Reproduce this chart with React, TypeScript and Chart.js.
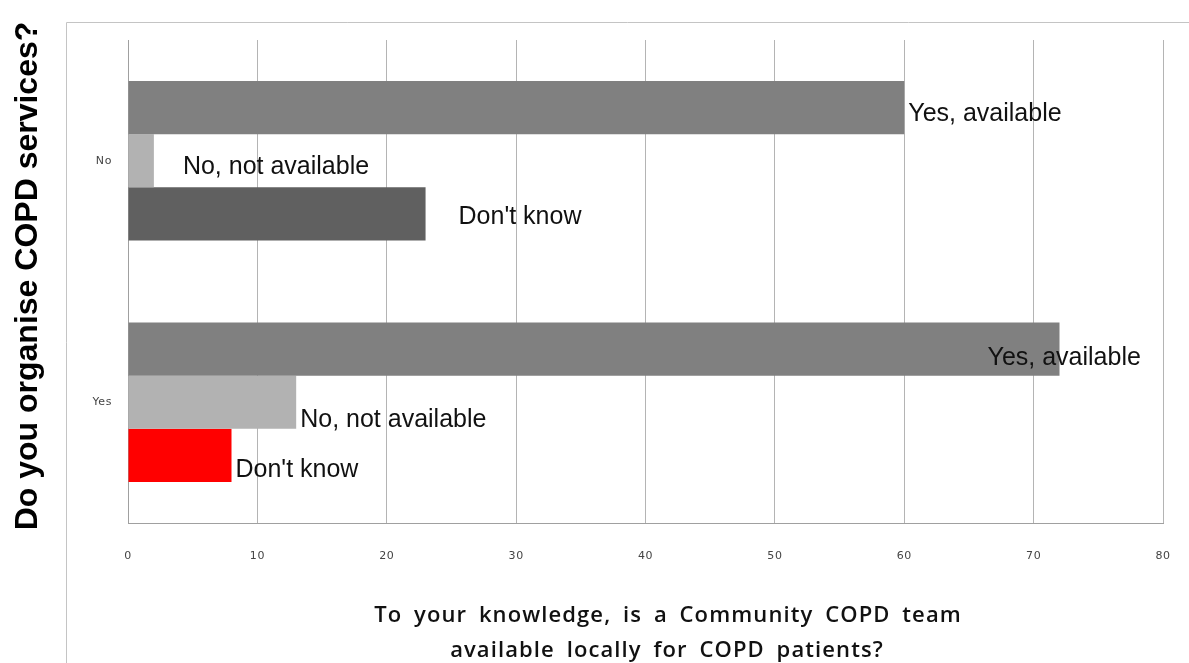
import React, { useEffect, useRef } from 'react';
import { Chart, registerables } from 'chart.js';

Chart.register(...registerables);

const categories = ['No', 'Yes'];
const seriesNames = ['Yes, available', 'No, not available', "Don't know"];
const yesAvailable = [60, 72];
const notAvailable = [2, 13];
const dontKnow = [23, 8];
const xTitleLines = ['To your knowledge, is a Community COPD team', 'available locally for COPD patients?'];
const yTitle = 'Do you organise COPD services?';

// label placement tweaks (pixels) per dataset, per category
const labelShift = [
  [[4, 6], [-72, 9]],
  [[29, 6], [4, 18]],
  [[33, 3], [4, 15]],
];

const decorPlugin = {
  id: 'decor',
  beforeDraw(chart: any) {
    const ctx = chart.ctx;
    ctx.save();
    ctx.strokeStyle = '#c4c4c4';
    ctx.lineWidth = 1;
    ctx.beginPath();
    ctx.moveTo(66.5, 663);
    ctx.lineTo(66.5, 22.5);
    ctx.lineTo(1189, 22.5);
    ctx.stroke();
    ctx.restore();
    ctx.letterSpacing = '0.6px';
  },
  beforeDatasetsDraw(chart: any) {
    chart.ctx.letterSpacing = '0px';
  },
  afterDatasetsDraw(chart: any) {
    const ctx = chart.ctx;
    ctx.save();
    ctx.letterSpacing = '0px';
    ctx.font = '25px "Liberation Sans", Arial, sans-serif';
    ctx.fillStyle = '#111';
    ctx.textAlign = 'left';
    ctx.textBaseline = 'middle';
    chart.data.datasets.forEach((ds: any, di: number) => {
      const meta = chart.getDatasetMeta(di);
      meta.data.forEach((bar: any, i: number) => {
        const [dx, dy] = labelShift[di][i];
        ctx.fillText(ds.label, bar.x + dx, bar.y + dy);
      });
    });
    ctx.restore();
  },
  afterDraw(chart: any) {
    const ctx = chart.ctx;
    ctx.save();
    ctx.fillStyle = '#111';
    ctx.textAlign = 'center';
    ctx.textBaseline = 'middle';
    ctx.font = '600 22px "Open Sans", sans-serif';
    ctx.letterSpacing = '1.1px';
    ctx.wordSpacing = '5px';
    ctx.fillText(xTitleLines[0], 668, 616);
    ctx.fillText(xTitleLines[1], 667, 651);
    ctx.letterSpacing = '0px';
    ctx.wordSpacing = '0px';
    ctx.translate(28, 276);
    ctx.rotate(-Math.PI / 2);
    ctx.font = 'bold 32px "Liberation Sans", Arial, sans-serif';
    ctx.fillStyle = '#000';
    ctx.fillText(yTitle, 0, 0);
    ctx.restore();
  },
};

export default function App() {
  const ref = useRef<HTMLCanvasElement | null>(null);
  useEffect(() => {
    if (!ref.current) return;
    const chart = new Chart(ref.current, {
      type: 'bar',
      data: {
        labels: categories,
        datasets: [
          { label: seriesNames[0], data: yesAvailable, backgroundColor: '#808080' },
          { label: seriesNames[1], data: notAvailable, backgroundColor: '#b2b2b2' },
          { label: seriesNames[2], data: dontKnow, backgroundColor: ['#606060', '#ff0000'] },
        ],
      },
      options: {
        indexAxis: 'y',
        animation: false,
        responsive: false,
        events: [],
        layout: { padding: { top: 40, right: 26, left: 0, bottom: 0 } },
        datasets: { bar: { categoryPercentage: 0.66, barPercentage: 1 } },
        plugins: { legend: { display: false }, tooltip: { enabled: false } },
        scales: {
          x: {
            min: 0,
            max: 80,
            ticks: {
              stepSize: 10,
              padding: 27,
              color: '#444',
              font: { family: '"DejaVu Sans", Verdana, sans-serif', size: 11 },
            },
            grid: { color: '#b4b4b4', drawTicks: false },
            border: { display: true, color: '#a0a0a0' },
            afterFit: (s: any) => { s.height = 140; s.paddingRight = 0; s.paddingLeft = 0; },
          },
          y: {
            ticks: {
              padding: 16,
              color: '#444',
              font: { family: '"DejaVu Sans", Verdana, sans-serif', size: 11 },
            },
            grid: { display: false, drawTicks: false },
            border: { display: true, color: '#a0a0a0' },
            afterFit: (s: any) => { s.width = 128; },
          },
        },
      },
      plugins: [decorPlugin],
    } as any);
    return () => chart.destroy();
  }, []);
  return (
    <div style={{ position: 'absolute', left: 0, top: 0, width: 1189, height: 663, background: '#fff' }}>
      <canvas ref={ref} width={1189} height={663} />
    </div>
  );
}
